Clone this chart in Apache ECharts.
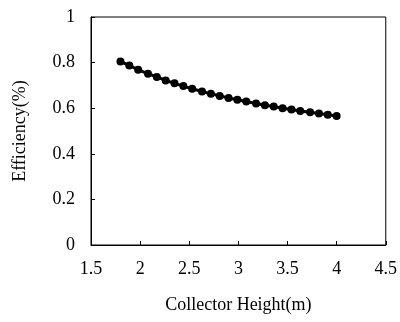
<!DOCTYPE html>
<html>
<head>
<meta charset="utf-8">
<script src="https://cdn.jsdelivr.net/npm/echarts@6/dist/echarts.min.js"></script>
<style>
  html, body { margin: 0; padding: 0; background: #fff; }
  #main { width: 400px; height: 322px; }
</style>
</head>
<body>
<div id="main"></div>
<script>
// collector height (m) and efficiency
var heights = [1.80, 1.89, 1.98, 2.08, 2.17, 2.26, 2.35, 2.44, 2.53, 2.63, 2.72, 2.81, 2.90,
               2.99, 3.08, 3.18, 3.27, 3.36, 3.45, 3.54, 3.63, 3.73, 3.82, 3.91, 4.00];
var efficiency = [0.805, 0.787, 0.769, 0.751, 0.737, 0.722, 0.709, 0.697, 0.685, 0.673, 0.663, 0.654, 0.645,
                  0.637, 0.629, 0.621, 0.613, 0.607, 0.600, 0.594, 0.588, 0.582, 0.577, 0.571, 0.566];

var font = 'Liberation Serif';

var chart = echarts.init(document.getElementById('main'));

var pts = heights.map(function (h, i) { return [h, efficiency[i]]; });

var option = {
    animation: false,
    grid: {
        left: 91, right: 14, top: 17, bottom: 77,
        show: true,
        borderColor: '#000',
        borderWidth: 1
    },
    xAxis: {
        type: 'value',
        min: 1.5, max: 4.5, interval: 0.5,
        name: 'Collector Height(m)',
        nameLocation: 'middle',
        nameGap: 51,
        nameTextStyle: { fontFamily: font, fontSize: 18, color: '#000' },
        axisLine: { lineStyle: { color: '#000', width: 1 } },
        axisTick: { inside: true, length: 4, lineStyle: { color: '#000' } },
        axisLabel: { fontFamily: font, fontSize: 18, color: '#000', margin: 15 },
        splitLine: { show: false }
    },
    yAxis: {
        type: 'value',
        min: 0, max: 1, interval: 0.2,
        name: 'Efficiency(%)',
        nameLocation: 'middle',
        nameGap: 62,
        nameTextStyle: { fontFamily: font, fontSize: 18, color: '#000' },
        axisLine: { show: true, lineStyle: { color: '#000', width: 1 } },
        axisTick: { show: true, inside: true, length: 4, lineStyle: { color: '#000' } },
        axisLabel: { fontFamily: font, fontSize: 18, color: '#000', margin: 16 },
        splitLine: { show: false }
    },
    series: [{
        type: 'line',
        data: pts,
        symbol: 'circle',
        symbolSize: 8,
        itemStyle: { color: '#000' },
        lineStyle: { color: '#000', width: 3 }
    }]
};

chart.setOption(option);
</script>
</body>
</html>
